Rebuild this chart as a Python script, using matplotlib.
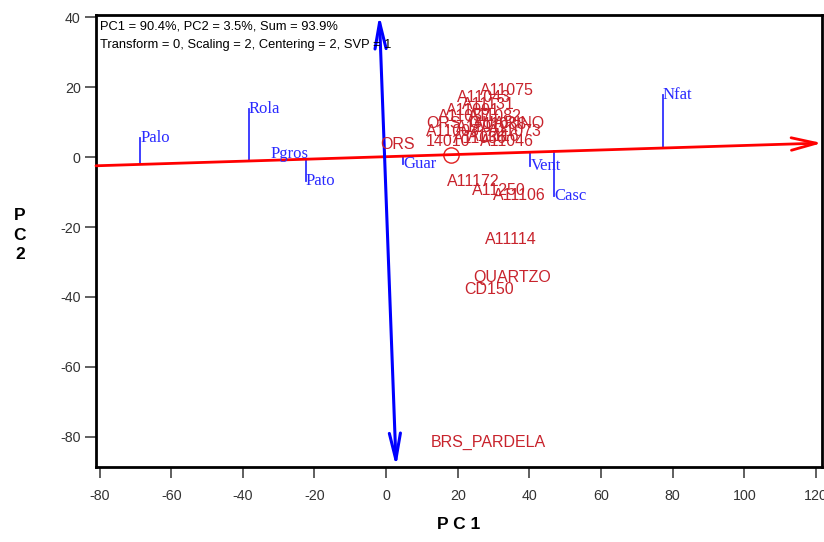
"""GGE-style biplot: PC1 vs PC2 with sample scores and trait vectors."""

import matplotlib

matplotlib.use("Agg")
import matplotlib.pyplot as plt

plt.rcParams["axes.unicode_minus"] = False

# Sample (genotype) scores
score_labels = [
    "A11075", "A11043", "A11131", "A11091", "A11057", "A11082", "ORS_GUARINO",
    "A11003", "A11012", "A11073", "A11088", "14010", "A11036", "A11046", "A11116",
    "ORS", "A11172", "A11250", "A11106", "A11114", "QUARTZO", "CD150", "BRS_PARDELA",
]
score_x = [26.1, 19.7, 21.1, 16.7, 14.4, 22.8, 11.1,
           11.1, 19.4, 28.3, 24.2, 11.1, 18.6, 26.1, 22.8,
           -1.7, 16.9, 23.9, 29.7, 27.5, 24.4, 21.9, 12.5]
score_y = [19.1, 17.1, 15.1, 13.4, 11.7, 11.7, 9.7,
           7.4, 8.3, 7.4, 9.4, 4.3, 5.4, 4.3, 6.0,
           3.7, -7.1, -9.7, -11.1, -23.7, -34.3, -38.0, -81.7]

# Trait (environment) positions
trait_labels = ["Palo", "Rola", "Pgros", "Pato", "Guar", "Vent", "Casc", "Nfat"]
trait_x = [-68.6, -38.3, -32.2, -22.5, 4.7, 40.3, 46.9, 77.2]
trait_y = [5.4, 13.7, 0.9, -6.9, -2.0, -2.6, -11.1, 17.7]

# Average-environment axis (red) and its perpendicular (blue)
red_axis_x = [-81.0, 121.7]
red_axis_y = [-2.5, 4.0]
blue_axis_x = [-1.9, 2.8]
blue_axis_y = [40.6, -88.6]
mean_point = (18.1, 0.6)

RED_TEXT = "#c8232c"
BLUE_TEXT = "#2a2aff"

fig = plt.figure(figsize=(8.24, 5.42), dpi=100)
ax = fig.add_axes([96 / 824, 75 / 542, 726 / 824, 452 / 542])
ax.set_xlim(-81.0, 121.7)
ax.set_ylim(-88.6, 40.6)


def red_line_y(x):
    slope = (red_axis_y[1] - red_axis_y[0]) / (red_axis_x[1] - red_axis_x[0])
    return red_axis_y[0] + (x - red_axis_x[0]) * slope


# red axis with open arrowhead
ax.annotate("", xy=(red_axis_x[1], red_axis_y[1]), xytext=(red_axis_x[0], red_axis_y[0]),
            arrowprops=dict(arrowstyle="->,head_length=1.8,head_width=0.45",
                            color="#ff0000", lw=2, shrinkA=0, shrinkB=0),
            annotation_clip=False)
# blue axis, arrowheads at both ends
ax.annotate("", xy=(blue_axis_x[0], blue_axis_y[0]), xytext=(blue_axis_x[1], blue_axis_y[1]),
            arrowprops=dict(arrowstyle="<->,head_length=1.9,head_width=0.4",
                            color="#0000ff", lw=2.2, shrinkA=0, shrinkB=0),
            annotation_clip=False)

# trait labels with projection lines onto the red axis
for name, x, y in zip(trait_labels, trait_x, trait_y):
    base = red_line_y(x)
    if abs(y - base) > 2:
        ax.plot([x, x], [base, y], color="#3030ff", lw=1.3)
    ax.text(x, y, name, color=BLUE_TEXT, fontsize=12, family="Liberation Serif",
            ha="left", va="center")

# sample labels
for name, x, y in zip(score_labels, score_x, score_y):
    ax.text(x, y, name, color=RED_TEXT, fontsize=11.5, family="Liberation Sans",
            ha="left", va="center")

ax.plot(*mean_point, marker="o", ms=11, mfc="none", mec="#e02020", mew=1)

ax.text(0.006, 0.988, "PC1 = 90.4%, PC2 = 3.5%, Sum = 93.9%\n"
        "Transform = 0, Scaling = 2, Centering = 2, SVP = 1",
        transform=ax.transAxes, ha="left", va="top", fontsize=9.3,
        family="Liberation Sans", linespacing=1.75)

ax.set_xticks(range(-80, 121, 20))
ax.set_yticks(range(-80, 41, 20))
ax.tick_params(direction="out", length=8, width=1.2, color="#444444",
               labelcolor="#333333", labelsize=10.3)
ax.tick_params(axis="x", pad=8)
ax.tick_params(axis="y", pad=3)
for label in ax.get_xticklabels() + ax.get_yticklabels():
    label.set_family("Liberation Sans")
for spine in ax.spines.values():
    spine.set_linewidth(2)
    spine.set_color("black")

ax.set_xlabel("P C 1", fontsize=12.5, fontweight="bold", family="Liberation Sans",
              labelpad=10)
fig.text(20 / 824, 1 - 235 / 542, "P\nC\n2", ha="center", va="center",
         fontsize=12.5, fontweight="bold", family="Liberation Sans", linespacing=1.4)

fig.savefig("out.png", dpi=100)
